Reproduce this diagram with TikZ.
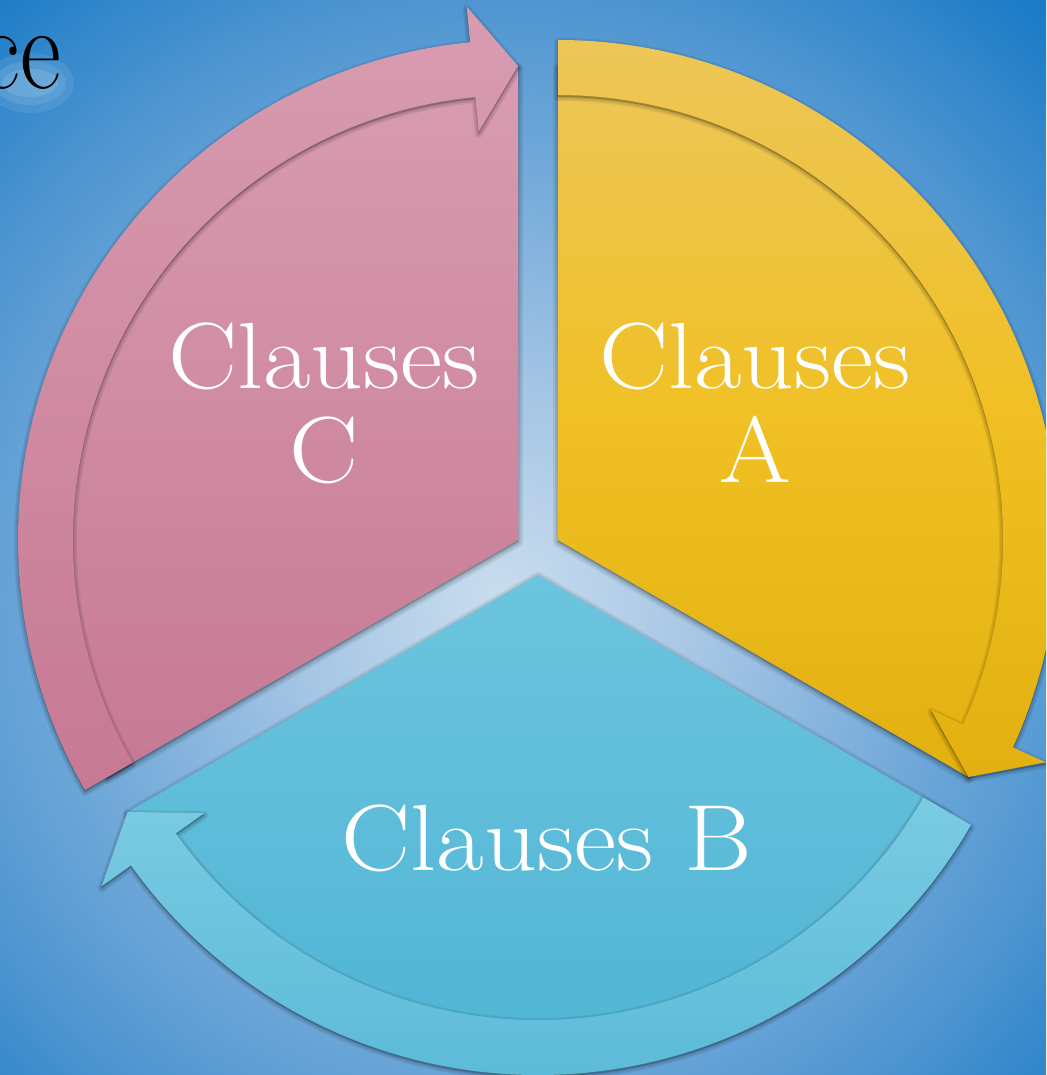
\documentclass[tikz,border=0pt]{standalone}
\definecolor{bg0}{HTML}{C9DDEE}
\definecolor{bg1}{HTML}{A6C6E5}
\definecolor{bg2}{HTML}{70A8D9}
\definecolor{bg3}{HTML}{5096D1}
\definecolor{bg4}{HTML}{1A7BC6}
\definecolor{yelTop}{HTML}{ECC658}
\definecolor{yelMid}{HTML}{F0C024}
\definecolor{yelBot}{HTML}{E2B00F}
\definecolor{pinkTop}{HTML}{D89CB0}
\definecolor{pinkBot}{HTML}{C67993}
\definecolor{bluTop}{HTML}{6CC5DE}
\definecolor{bluBot}{HTML}{4CB2D3}
\definecolor{bluBandTop}{HTML}{7ACBE2}
\definecolor{bluBandBot}{HTML}{5CBBD8}
\definecolor{glowc}{HTML}{DDEBF7}
\pgfdeclareradialshading{bgrad}{\pgfpoint{0bp}{0bp}}{color(0bp)=(bg0); color(6bp)=(bg1); color(13bp)=(bg2); color(17.5bp)=(bg3); color(23.5bp)=(bg4); color(50bp)=(bg4)}
% sector: #1 start angle, #2 end angle, #3 options
\newcommand\sectorP[3]{\path[#3] (0,0) -- (#1:474) arc[start angle=#1, end angle=#2, radius=474] -- cycle;}
% band with arrow head: #1 start, #2 head back, #3 tip, #4 options
\newcommand\bandP[4]{\path[#4] (#1:445) -- (#1:500) arc[start angle=#1, end angle=#2, radius=500] -- (#2:536) -- (#3:474) -- (#2:410) -- (#2:445) arc[start angle=#2, end angle=#1, radius=445] -- cycle;}
\newcommand\wide[1]{\scalebox{1.1}[1]{#1}}
\tikzset{
  shad/.style={fill=black, draw=black, fill opacity=0.07, draw opacity=0.07, line width=#1, line join=round, yshift=-2pt},
  lbl/.style={text=white, inner sep=0pt, font=\fontsize{94}{94}\selectfont},
  titlefont/.style={anchor=base east, inner sep=0pt, font=\fontsize{118}{118}\selectfont},
  yelfill/.style={top color=yelTop, bottom color=yelBot, middle color=yelMid},
  pinkfill/.style={top color=pinkTop, bottom color=pinkBot},
  blufill/.style={top color=bluTop, bottom color=bluBot},
  bluband/.style={top color=bluBandTop, bottom color=bluBandBot}
}
\begin{document}
\begin{tikzpicture}[x=1pt,y=1pt]
\useasboundingbox (0,0) rectangle (1046,1075);
\clip (0,0) rectangle (1046,1075);
\shade[shading=bgrad] (500,475) circle (850);

% soft glow under the title fragment
\foreach \r/\o in {30/0.10,22/0.12,14/0.14}{
  \fill[glowc, opacity=\o] (30,992) ellipse ({\r+14} and \r);
}
\node[titlefont, text=black] (title) at (61,986) {\scalebox{0.85}[1]{ce}};

% yellow (Clauses A)
\begin{scope}[shift={(558,535)}]
  \foreach \w in {10pt,6pt,3pt}{\sectorP{90}{-30}{shad=\w}}
  \sectorP{90}{-30}{yelfill}
  \foreach \w in {8pt,5pt,2pt}{\bandP{90}{-24.5}{-30}{shad=\w}}
  \bandP{90}{-24.5}{-30}{yelfill}
\end{scope}

% blue (Clauses B)
\begin{scope}[shift={(538,500)}]
  \foreach \w in {10pt,6pt,3pt}{\sectorP{-30}{-150}{shad=\w}}
  \sectorP{-30}{-150}{blufill}
  \foreach \w in {8pt,5pt,2pt}{\bandP{-30}{-144.5}{-150}{shad=\w}}
  \bandP{-30}{-144.5}{-150}{bluband}
\end{scope}

% pink (Clauses C)
\begin{scope}[shift={(518,535)}]
  \foreach \w in {10pt,6pt,3pt}{\sectorP{210}{90}{shad=\w}}
  \sectorP{210}{90}{pinkfill}
  \foreach \w in {8pt,5pt,2pt}{\bandP{210}{95.5}{90}{shad=\w}}
  \bandP{210}{95.5}{90}{pinkfill}
\end{scope}

% labels
\node[lbl, anchor=base] (a1) at (755,686) {\wide{Clauses}};
\node[lbl, anchor=base] (a2) at (755,592) {\wide{A}};
\node[lbl, anchor=base] (b1) at (547,204) {\wide{Clauses B}};
\node[lbl, anchor=base] (c1) at (324,686) {\wide{Clauses}};
\node[lbl, anchor=base] (c2) at (324,592) {\wide{C}};
\end{tikzpicture}
\end{document}
